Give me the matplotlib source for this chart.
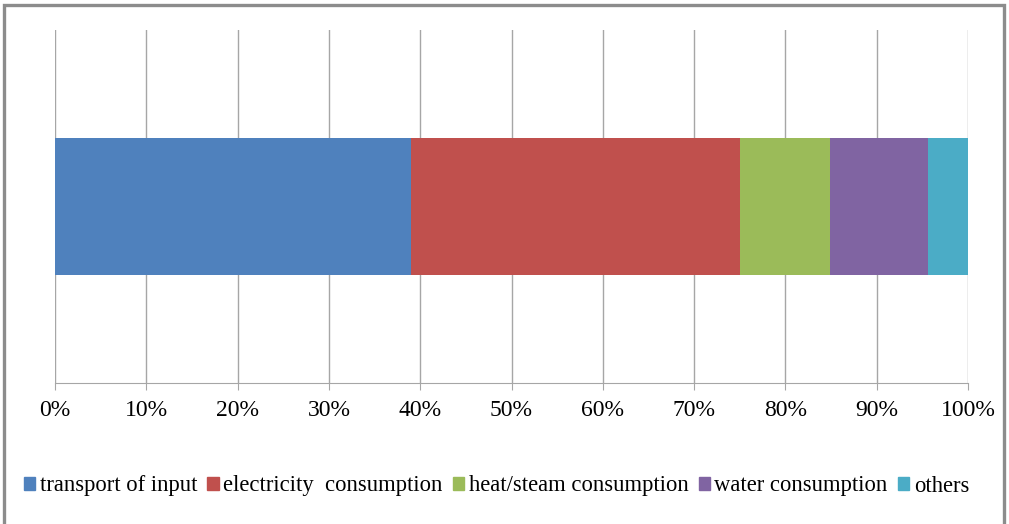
import matplotlib

matplotlib.use("Agg")
import matplotlib.pyplot as plt
from matplotlib.patches import Patch, Rectangle

# 각 항목 비율 [%]
categories = ["transport of input", "electricity  consumption",
              "heat/steam consumption", "water consumption", "others"]
shares = [39.0, 36.0, 9.9, 10.7, 4.4]
colors = ["#4F81BD", "#C0504D", "#9BBB59", "#8064A2", "#4BACC6"]
ticks = list(range(0, 101, 10))
tick_labels = [f"{t}%" for t in ticks]

plt.rcParams["font.family"] = ["Liberation Serif", "DejaVu Serif"]

fig = plt.figure(figsize=(10.09, 5.24), dpi=100)
ax = fig.add_axes([55 / 1009, (524 - 383) / 524, 913 / 1009, 353 / 524])

left = 0.0
for name, v, c in zip(categories, shares, colors):
    ax.barh(0, v, left=left, height=0.39, color=c, label=name, zorder=3)
    left += v

ax.set_xlim(0, 100)
ax.set_ylim(-0.5, 0.5)
ax.set_xticks(ticks)
ax.set_xticklabels(tick_labels, fontsize=17)
ax.set_yticks([])
ax.grid(axis="x", color="#a6a6a6", lw=1.0, zorder=0)
for s in ("top", "left", "right"):
    ax.spines[s].set_visible(False)
ax.spines["bottom"].set_color("#a6a6a6")
ax.tick_params(axis="x", length=5, color="#a6a6a6", pad=7)

handles = [Patch(color=c, label=n) for n, c in zip(categories, colors)]
fig.legend(handles=handles, loc="center", bbox_to_anchor=(0.492, 1 - 486 / 524),
           ncol=5, frameon=False, fontsize=16.3, handlelength=0.5, handleheight=0.5,
           handletextpad=0.2, columnspacing=0.45, borderpad=0)

# 바깥 테두리
fig.add_artist(Rectangle((4 / 1009, -0.01), 1000 / 1009, 1 - 5 / 524 + 0.01,
                         transform=fig.transFigure, fill=False,
                         edgecolor="#8c8c8c", lw=2.4))

fig.savefig("out.png", dpi=100)
